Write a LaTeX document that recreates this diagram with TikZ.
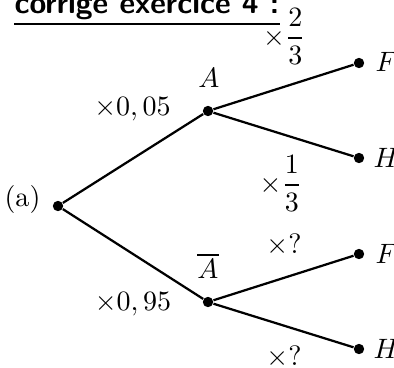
\documentclass[tikz,border=0pt]{standalone}
\usepackage{amsmath}
\tikzstyle{noeud}=[circle, fill=black, inner sep=0pt, minimum size=3.7pt]
\tikzstyle{branche}=[black, thick]
\tikzstyle{proba}=[anchor=base, inner sep=0pt]
\tikzstyle{issue}=[anchor=base west, inner sep=0pt]
\tikzstyle{titre}=[anchor=base west, inner sep=0pt, font=\sffamily\bfseries, scale=1.09]

\begin{document}
\begin{tikzpicture}[x=0.357pt, y=-0.357pt]
	\useasboundingbox (0,0) rectangle (394,367);
	\node[titre] (t) at (14,13) {corrige exercice 4 :};
	\draw[line width=0.75pt] ([yshift=-1.6pt] t.south west) -- ([yshift=-1.6pt] t.south east);
	\node[noeud] (r) at (58,206) {};
	\node[noeud] (a) at (208,111) {};
	\node[noeud] (ab) at (208,302) {};
	\node[noeud] (f1) at (359,63) {};
	\node[noeud] (h1) at (359,158) {};
	\node[noeud] (f2) at (359,254) {};
	\node[noeud] (h2) at (359,349) {};
	\draw[branche] (r) -- (a) -- (f1);
	\draw[branche] (a) -- (h1);
	\draw[branche] (r) -- (ab) -- (f2);
	\draw[branche] (ab) -- (h2);
	\node[proba] (lr) at (22.5,206) {(a)};
	\node[proba] (la) at (209,87) {$A$};
	\node[proba] (lab) at (208,278) {$\overline{A}$};
	\node[proba] (p1) at (132.5,115) {$\times 0,05$};
	\node[proba] (p2) at (133,310) {$\times 0,95$};
	\node[proba] (p3) at (284.5,45) {$\times\dfrac{2}{3}$};
	\node[proba] (p4) at (281,192) {$\times\dfrac{1}{3}$};
	\node[proba] (p5) at (284,253) {$\times ?$};
	\node[proba] (p6) at (284,365) {$\times ?$};
	\node[issue] (lf1) at (375,71) {$F$};
	\node[issue] (lh1) at (373,167) {$H$};
	\node[issue] (lf2) at (375,263) {$F$};
	\node[issue] (lh2) at (373,358) {$H$};
\end{tikzpicture}
\end{document}
